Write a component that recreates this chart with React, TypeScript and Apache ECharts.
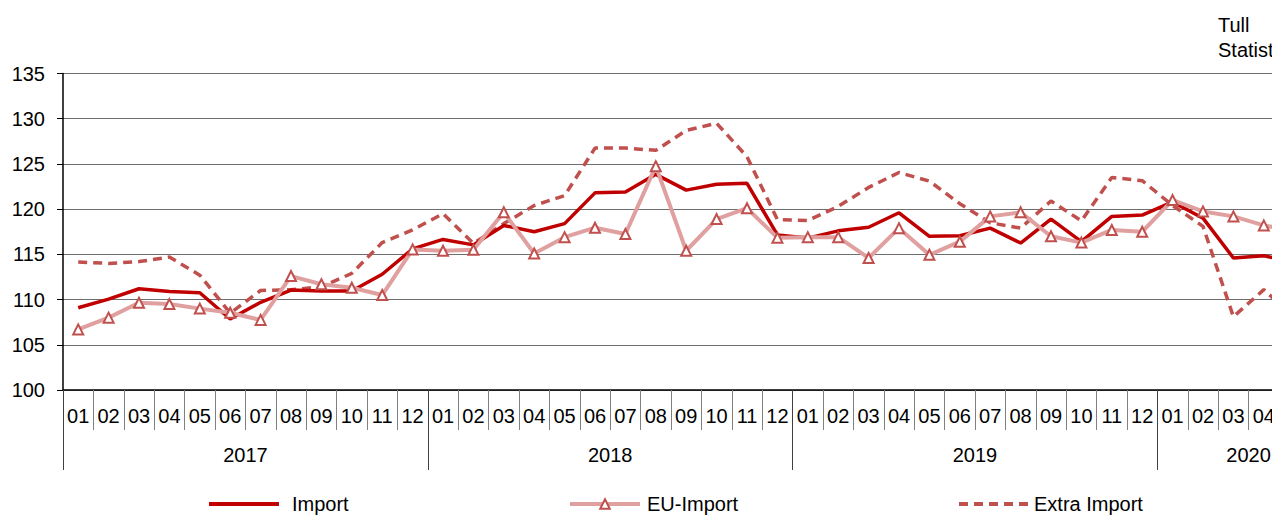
import React, { useEffect, useRef } from "react";
import * as echarts from "echarts";

const years = ["2017", "2018", "2019", "2020"];
const monthsPerYear = [12, 12, 12, 6];
const monthLabels = ["01", "02", "03", "04", "05", "06", "07", "08", "09", "10", "11", "12"];

const importValues = [
  109.1, 110.05, 111.2, 110.9, 110.75, 107.85, 109.7, 111.05, 110.95, 110.95, 112.8, 115.6,
  116.65, 116.05, 118.2, 117.5, 118.4, 121.8, 121.9, 123.85, 122.1, 122.75, 122.85, 117.15,
  116.8, 117.6, 118.0, 119.6, 117.0, 117.05, 117.9, 116.25, 118.9, 116.4, 119.2, 119.35,
  120.8, 119.0, 114.6, 114.85, 114.1, null,
];
const euImportValues = [
  106.7, 108.0, 109.65, 109.5, 109.0, 108.55, 107.75, 112.6, 111.7, 111.3, 110.5, 115.55,
  115.4, 115.5, 119.65, 115.1, 116.9, 117.95, 117.25, 124.75, 115.4, 118.9, 120.1, 116.85,
  116.9, 116.9, 114.6, 117.9, 114.95, 116.4, 119.2, 119.65, 117.0, 116.3, 117.7, 117.5,
  121.0, 119.75, 119.2, 118.2, 117.6, null,
];
const extraImportValues = [
  114.15, 114.0, 114.2, 114.7, 112.7, 108.5, 111.0, 111.1, 111.4, 112.9, 116.3, 117.7,
  119.5, 116.2, 118.4, 120.4, 121.5, 126.75, 126.75, 126.5, 128.7, 129.5, 125.8, 118.85,
  118.75, 120.3, 122.4, 124.05, 123.1, 120.6, 118.5, 117.9, 120.9, 118.7, 123.5, 123.15,
  120.4, 118.1, 108.1, 111.1, 108.0, null,
];

const FONT = "'Liberation Sans', Arial, sans-serif";

export default function App() {
  const ref = useRef<HTMLDivElement>(null);

  useEffect(() => {
    if (!ref.current) return;
    const chart = echarts.init(ref.current, undefined, { renderer: "svg" });

    const categories: string[] = [];
    monthsPerYear.forEach((n) => {
      for (let i = 0; i < n; i++) categories.push(monthLabels[i]);
    });
    const total = categories.length;
    const boundaries: number[] = [];
    const centers: number[] = [];
    let acc = 0;
    monthsPerYear.forEach((n) => {
      boundaries.push(acc);
      centers.push(acc + n / 2);
      acc += n;
    });
    boundaries.push(acc);

    const slot = 30.4;
    const hiddenSymbol = { color: "transparent", borderColor: "transparent", borderWidth: 0, opacity: 0 };

    chart.setOption({
      animation: false,
      backgroundColor: "#ffffff",
      textStyle: { fontFamily: FONT, color: "#000" },
      grid: { left: 63, top: 73.5, width: slot * total, height: 316.5, containLabel: false },
      graphic: [
        {
          type: "text",
          left: 1218,
          top: 12,
          style: { text: "Tull\nStatistik", font: `20px ${FONT}`, fill: "#000", lineHeight: 25 },
        },
      ],
      legend: [
        {
          data: ["Import"],
          left: 202,
          top: 489,
          itemWidth: 70,
          itemHeight: 12,
          itemStyle: hiddenSymbol,
          lineStyle: { width: 4 },
          textStyle: { fontSize: 20, color: "#000", padding: [0, 0, 0, 8] },
        },
        {
          data: ["EU-Import"],
          left: 563,
          top: 489,
          itemWidth: 70,
          itemHeight: 12,
          lineStyle: { width: 4 },
          textStyle: { fontSize: 20, color: "#000", padding: [0, 0, 0, 2] },
        },
        {
          data: ["Extra Import"],
          left: 952,
          top: 489,
          itemWidth: 70,
          itemHeight: 12,
          itemStyle: hiddenSymbol,
          lineStyle: { width: 4 },
          textStyle: { fontSize: 20, color: "#000", padding: [0, 0, 0, 0] },
        },
      ],
      xAxis: [
        {
          type: "category",
          data: categories,
          position: "bottom",
          boundaryGap: true,
          axisLine: { show: true, lineStyle: { color: "#000", width: 1.5 } },
          axisTick: { show: true, interval: 0, length: 40, lineStyle: { color: "#808080", width: 1 } },
          axisLabel: { interval: 0, fontSize: 20, color: "#000", margin: 16, fontFamily: FONT },
          splitLine: { show: false },
        },
        {
          type: "value",
          min: 0,
          max: total,
          position: "bottom",
          axisLine: { show: false },
          axisTick: {
            show: true,
            length: 80,
            customValues: boundaries,
            lineStyle: { color: "#404040", width: 1 },
          },
          axisLabel: {
            show: true,
            customValues: centers,
            fontSize: 20,
            color: "#000",
            margin: 55,
            fontFamily: FONT,
            formatter: (v: number) => {
              const idx = centers.indexOf(v);
              return idx >= 0 ? years[idx] : "";
            },
          },
          splitLine: { show: false },
        },
      ],
      yAxis: {
        type: "value",
        min: 100,
        max: 135,
        interval: 5,
        axisLine: { show: true, lineStyle: { color: "#000", width: 1.5 } },
        axisTick: { show: true, length: 6, lineStyle: { color: "#000" } },
        axisLabel: { fontSize: 20, color: "#000", margin: 18, fontFamily: FONT },
        splitLine: { show: true, lineStyle: { color: "#6e6e6e", width: 1 } },
      },
      series: [
        {
          name: "Import",
          type: "line",
          data: importValues,
          xAxisIndex: 0,
          yAxisIndex: 0,
          showSymbol: false,
          symbol: "none",
          color: "#c00000",
          lineStyle: { color: "#c00000", width: 3.5 },
          z: 3,
        },
        {
          name: "EU-Import",
          type: "line",
          data: euImportValues,
          xAxisIndex: 0,
          yAxisIndex: 0,
          symbol: "triangle",
          symbolSize: 10,
          showSymbol: true,
          color: "#e0a0a0",
          lineStyle: { color: "#e0a0a0", width: 4 },
          itemStyle: { color: "#ffffff", borderColor: "#c0504d", borderWidth: 2 },
          z: 4,
        },
        {
          name: "Extra Import",
          type: "line",
          data: extraImportValues,
          xAxisIndex: 0,
          yAxisIndex: 0,
          showSymbol: false,
          symbol: "none",
          color: "#c0504d",
          lineStyle: { color: "#c0504d", width: 3.5, type: [9, 6] },
          z: 2,
        },
      ],
    });

    return () => chart.dispose();
  }, []);

  return (
    <div
      style={{
        position: "fixed",
        left: 0,
        top: 0,
        width: 1272,
        height: 516,
        overflow: "hidden",
        background: "#fff",
      }}
    >
      <div ref={ref} style={{ width: 1400, height: 516 }} />
    </div>
  );
}
